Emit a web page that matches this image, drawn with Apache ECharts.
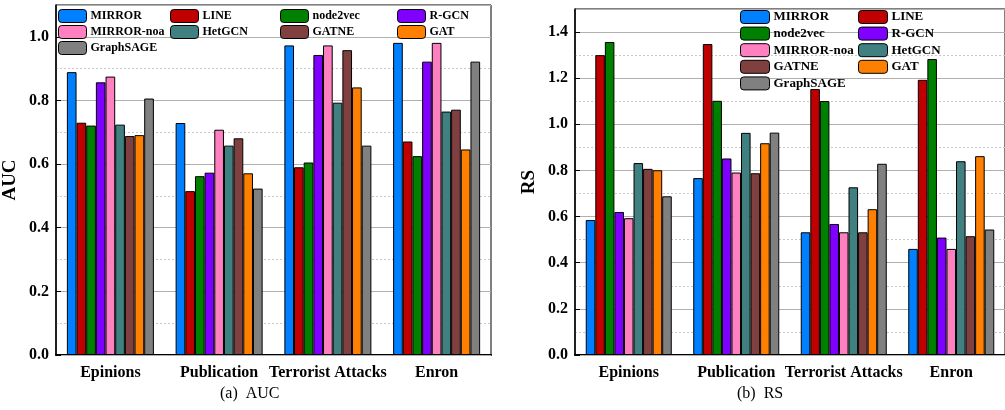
<!DOCTYPE html>
<html>
<head>
<meta charset="utf-8">
<script src="https://cdn.jsdelivr.net/npm/echarts@6/dist/echarts.min.js"></script>
<style>
  html, body { margin: 0; padding: 0; background: #fff; }
  #main { width: 1005px; height: 410px; }
</style>
</head>
<body>
<div id="main"></div>
<script type="text/javascript">
    // datasets on the x axis
    var categories = ['Epinions', 'Publication', 'Terrorist Attacks', 'Enron'];
    var methods = ['MIRROR', 'LINE', 'node2vec', 'R-GCN', 'MIRROR-noa', 'HetGCN', 'GATNE', 'GAT', 'GraphSAGE'];
    var colors = ['#0080ff', '#c00000', '#008000', '#8000ff', '#ff80c0', '#408080', '#804040', '#ff8000', '#808080'];

    // AUC, one array per method (Epinions, Publication, Terrorist Attacks, Enron)
    var aucMIRROR    = [0.889, 0.729, 0.973, 0.981];
    var aucLINE      = [0.730, 0.515, 0.590, 0.671];
    var aucNode2vec  = [0.721, 0.562, 0.605, 0.625];
    var aucRGCN      = [0.857, 0.573, 0.943, 0.922];
    var aucMIRRORnoa = [0.875, 0.708, 0.973, 0.981];
    var aucHetGCN    = [0.724, 0.658, 0.793, 0.765];
    var aucGATNE     = [0.688, 0.681, 0.958, 0.771];
    var aucGAT       = [0.691, 0.571, 0.841, 0.646];
    var aucGraphSAGE = [0.806, 0.523, 0.658, 0.922];

    // RS
    var rsMIRROR    = [0.585, 0.767, 0.532, 0.460];
    var rsLINE      = [1.300, 1.348, 1.153, 1.193];
    var rsNode2vec  = [1.357, 1.102, 1.101, 1.283];
    var rsRGCN      = [0.620, 0.852, 0.568, 0.509];
    var rsMIRRORnoa = [0.593, 0.791, 0.532, 0.460];
    var rsHetGCN    = [0.832, 0.963, 0.727, 0.840];
    var rsGATNE     = [0.807, 0.788, 0.532, 0.515];
    var rsGAT       = [0.801, 0.918, 0.632, 0.862];
    var rsGraphSAGE = [0.688, 0.964, 0.829, 0.544];

    var aucData = [aucMIRROR, aucLINE, aucNode2vec, aucRGCN, aucMIRRORnoa, aucHetGCN, aucGATNE, aucGAT, aucGraphSAGE];
    var rsData = [rsMIRROR, rsLINE, rsNode2vec, rsRGCN, rsMIRRORnoa, rsHetGCN, rsGATNE, rsGAT, rsGraphSAGE];

    var FONT = '"Liberation Serif", "DejaVu Serif", serif';

    var myChart = echarts.init(document.getElementById('main'));

    function xAxes(gridIndex) {
        return [{
            type: 'category', gridIndex: gridIndex, data: categories,
            axisLine: {lineStyle: {color: '#000', width: 2}},
            axisTick: {inside: true, length: 4, interval: 0, lineStyle: {color: '#000'}},
            axisLabel: {color: '#000', fontFamily: FONT, fontWeight: 'bold', fontSize: 16, margin: 10, interval: 0}
        }, {
            // ticks at the centre of each group
            type: 'category', gridIndex: gridIndex, data: categories, position: 'bottom', offset: 0,
            axisLine: {show: false},
            axisTick: {inside: true, length: 4, alignWithLabel: true, lineStyle: {color: '#000'}},
            axisLabel: {show: false}
        }];
    }

    function yAxes(gridIndex, max, name) {
        return [{
            type: 'value', gridIndex: gridIndex, min: 0, max: max, interval: 0.2,
            name: name, nameLocation: 'middle', nameGap: 36,
            nameTextStyle: {color: '#000', fontFamily: FONT, fontWeight: 'bold', fontSize: 19},
            axisLine: {show: true, lineStyle: {color: '#000', width: 1.5}},
            axisTick: {show: true, inside: true, length: 5, lineStyle: {color: '#000'}},
            axisLabel: {color: '#000', fontFamily: FONT, fontWeight: 'bold', fontSize: 16, margin: 7,
                showMaxLabel: false, formatter: function (v) { return v.toFixed(1); }},
            splitLine: {lineStyle: {color: '#b0b0b0', width: 1}},
            z: 3
        }, {
            // dashed lines every 0.1
            type: 'value', gridIndex: gridIndex, min: 0, max: max, interval: 0.1, position: 'right',
            axisLine: {show: false}, axisTick: {show: false}, axisLabel: {show: false},
            splitLine: {lineStyle: {color: '#c8c8c8', width: 1, type: [2, 2]}},
            z: 1
        }];
    }

    var series = [];
    var legends = [];
    methods.forEach(function (m, i) {
        series.push({
            name: m, type: 'bar', xAxisIndex: 0, yAxisIndex: 0,
            data: aucData[i], barGap: 0, barCategoryGap: '20%',
            itemStyle: {color: colors[i], borderColor: '#000', borderWidth: 1}, z: 5
        });
        series.push({
            name: m, type: 'bar', xAxisIndex: 2, yAxisIndex: 2,
            data: rsData[i], barGap: 0, barCategoryGap: '20%',
            itemStyle: {color: colors[i], borderColor: '#000', borderWidth: 1}, z: 5
        });
        // left legend: 4 columns
        var lx = [58, 170, 280, 397];
        legends.push({
            data: [m], left: lx[i % 4], top: 9 + Math.floor(i / 4) * 16, padding: 0,
            itemWidth: 28, itemHeight: 13, itemGap: 0, selectedMode: false,
            itemStyle: {borderColor: '#000', borderWidth: 1},
            textStyle: {color: '#000', fontFamily: FONT, fontWeight: 'bold', fontSize: 12, padding: [0, 0, 0, -1]}
        });
        // right legend: 2 columns
        var rx = [740, 858];
        legends.push({
            data: [m], left: rx[i % 2], top: 10 + Math.floor(i / 2) * 16.6, padding: 0,
            itemWidth: 29, itemHeight: 13, itemGap: 0, selectedMode: false,
            itemStyle: {borderColor: '#000', borderWidth: 1},
            textStyle: {color: '#000', fontFamily: FONT, fontWeight: 'bold', fontSize: 13, padding: [0, 0, 0, -1]}
        });
    });

    myChart.setOption({
        animation: false,
        grid: [
            {left: 56, top: 5, width: 435, height: 350, show: true, borderColor: '#000', borderWidth: 1, backgroundColor: 'transparent'},
            {left: 575, top: 9, width: 432, height: 346, show: true, borderColor: '#000', borderWidth: 1, backgroundColor: 'transparent'}
        ],
        legend: legends,
        xAxis: xAxes(0).concat(xAxes(1)),
        yAxis: yAxes(0, 1.1, 'AUC').concat(yAxes(1, 1.5, 'RS')),
        series: series,
        graphic: [
            {type: 'text', left: 220, top: 386, style: {text: '(a)  AUC', font: '16px ' + FONT, fill: '#000'}},
            {type: 'text', left: 737, top: 386, style: {text: '(b)  RS', font: '16px ' + FONT, fill: '#000'}}
        ]
    });
</script>
</body>
</html>
